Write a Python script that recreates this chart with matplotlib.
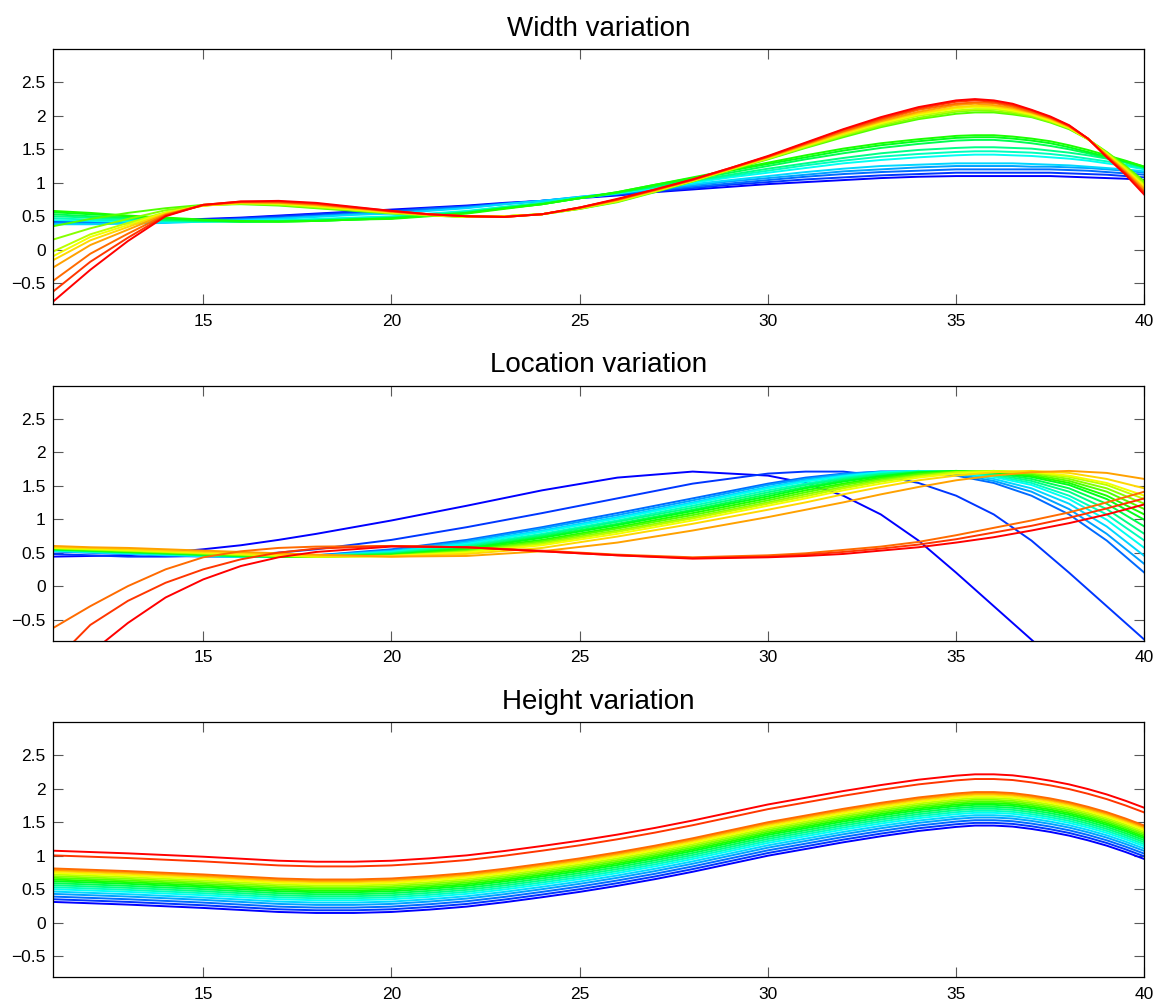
import numpy as np
import matplotlib
matplotlib.use("Agg")
import matplotlib.pyplot as plt
from matplotlib.colors import hsv_to_rgb

plt.rcParams['font.family'] = ['Liberation Sans', 'DejaVu Sans']

# x grids the curves were read on
XG = [11, 12, 13, 14, 15, 16, 17, 18, 20, 22, 24, 26, 28, 30, 31, 32, 33, 34, 35, 36, 37, 38, 39, 40]
XW = [11, 12, 13, 14, 15, 16, 17, 18,
      19, 20, 21, 22, 23, 24, 25, 26, 27, 28, 29, 30, 31, 32, 33, 34,
      35, 35.5, 36, 36.5, 37, 37.5, 38, 38.5, 39, 39.5, 40]

# ---- Width variation (blue -> red), on XW ----
width_curves = [
    [.42, .42, .43, .44, .46, .48, .51, .54, .57, .60, .63, .66, .70, .73, .77, .81, .86, .90, .94, .98, 1.01, 1.04, 1.07, 1.09, 1.10, 1.10, 1.10, 1.10, 1.10, 1.10, 1.09, 1.08, 1.07, 1.06, 1.04],
    [.41, .41, .42, .43, .45, .47, .50, .53, .56, .58, .62, .65, .69, .73, .78, .82, .87, .92, .97, 1.01, 1.05, 1.08, 1.11, 1.13, 1.15, 1.15, 1.15, 1.15, 1.15, 1.15, 1.14, 1.13, 1.12, 1.10, 1.08],
    [.40, .40, .41, .42, .44, .46, .48, .51, .54, .57, .61, .64, .69, .73, .78, .83, .89, .94, .99, 1.04, 1.09, 1.13, 1.16, 1.18, 1.20, 1.20, 1.20, 1.20, 1.20, 1.20, 1.19, 1.18, 1.16, 1.14, 1.12],
    [.39, .39, .40, .41, .43, .45, .47, .50, .53, .55, .59, .63, .68, .73, .79, .84, .90, .96, 1.02, 1.07, 1.12, 1.17, 1.20, 1.23, 1.25, 1.25, 1.25, 1.25, 1.24, 1.24, 1.23, 1.22, 1.20, 1.18, 1.15],
    [.38, .38, .39, .40, .42, .44, .46, .49, .52, .54, .58, .62, .68, .73, .79, .85, .92, .98, 1.04, 1.10, 1.16, 1.21, 1.25, 1.27, 1.29, 1.29, 1.29, 1.29, 1.28, 1.27, 1.26, 1.24, 1.22, 1.20, 1.17],
    [.44, .43, .42, .42, .42, .43, .44, .46, .48, .50, .54, .58, .64, .70, .77, .84, .92, 1.00, 1.08, 1.15, 1.22, 1.29, 1.34, 1.38, 1.41, 1.42, 1.42, 1.41, 1.40, 1.38, 1.36, 1.33, 1.29, 1.25, 1.20],
    [.47, .45, .44, .43, .42, .42, .43, .45, .47, .49, .53, .57, .64, .70, .78, .85, .94, 1.02, 1.10, 1.18, 1.26, 1.33, 1.39, 1.43, 1.46, 1.47, 1.47, 1.46, 1.45, 1.43, 1.40, 1.36, 1.32, 1.27, 1.21],
    [.50, .48, .46, .44, .43, .42, .43, .44, .46, .48, .52, .56, .63, .69, .77, .85, .94, 1.03, 1.12, 1.21, 1.29, 1.37, 1.44, 1.49, 1.52, 1.53, 1.53, 1.52, 1.51, 1.48, 1.45, 1.41, 1.36, 1.30, 1.22],
    [.53, .50, .48, .45, .43, .42, .42, .43, .45, .47, .51, .55, .62, .68, .77, .85, .95, 1.05, 1.15, 1.25, 1.35, 1.44, 1.52, 1.58, 1.63, 1.64, 1.64, 1.62, 1.59, 1.55, 1.50, 1.44, 1.37, 1.31, 1.23],
    [.56, .53, .50, .47, .44, .42, .42, .43, .45, .47, .51, .55, .62, .68, .77, .86, .97, 1.07, 1.18, 1.28, 1.38, 1.48, 1.56, 1.62, 1.67, 1.68, 1.68, 1.66, 1.63, 1.59, 1.53, 1.46, 1.39, 1.32, 1.24],
    [.58, .55, .51, .48, .45, .43, .42, .43, .45, .46, .50, .54, .61, .68, .77, .86, .97, 1.08, 1.19, 1.30, 1.41, 1.51, 1.59, 1.65, 1.70, 1.71, 1.71, 1.69, 1.66, 1.62, 1.56, 1.49, 1.41, 1.33, 1.24],
    [.35, .46, .55, .62, .67, .68, .66, .62, .58, .54, .51, .49, .50, .53, .61, .71, .86, 1.02, 1.19, 1.35, 1.52, 1.68, 1.83, 1.95, 2.03, 2.05, 2.05, 2.02, 1.98, 1.90, 1.80, 1.65, 1.46, 1.25, 1.02],
    [.15, .32, .46, .59, .66, .69, .67, .63, .59, .55, .51, .49, .50, .53, .61, .72, .87, 1.02, 1.19, 1.36, 1.53, 1.70, 1.85, 1.97, 2.06, 2.08, 2.07, 2.04, 1.99, 1.91, 1.81, 1.65, 1.45, 1.23, 1.00],
    [-.03, .23, .40, .56, .66, .69, .68, .64, .60, .55, .52, .49, .50, .53, .62, .72, .87, 1.03, 1.20, 1.36, 1.54, 1.71, 1.87, 2.00, 2.08, 2.10, 2.10, 2.06, 2.01, 1.92, 1.82, 1.65, 1.44, 1.22, .97],
    [-.10, .19, .37, .55, .66, .70, .69, .65, .60, .56, .52, .49, .50, .53, .62, .73, .88, 1.03, 1.20, 1.37, 1.55, 1.73, 1.89, 2.02, 2.11, 2.13, 2.12, 2.08, 2.02, 1.93, 1.82, 1.65, 1.43, 1.20, .95],
    [-.16, .14, .34, .54, .66, .70, .70, .66, .61, .56, .52, .50, .50, .53, .62, .74, .88, 1.04, 1.21, 1.38, 1.56, 1.74, 1.91, 2.04, 2.13, 2.15, 2.14, 2.10, 2.04, 1.95, 1.83, 1.66, 1.42, 1.19, .92],
    [-.27, .07, .30, .53, .66, .71, .70, .67, .62, .57, .52, .50, .49, .53, .62, .74, .89, 1.04, 1.21, 1.38, 1.57, 1.76, 1.92, 2.06, 2.16, 2.18, 2.16, 2.12, 2.05, 1.96, 1.84, 1.66, 1.41, 1.17, .90],
    [-.47, -.06, .24, .52, .67, .71, .71, .68, .63, .57, .53, .50, .49, .53, .63, .75, .89, 1.04, 1.21, 1.39, 1.58, 1.77, 1.94, 2.09, 2.18, 2.20, 2.19, 2.14, 2.06, 1.97, 1.85, 1.66, 1.40, 1.15, .87],
    [-.63, -.18, .18, .51, .67, .72, .72, .69, .63, .58, .53, .50, .49, .53, .63, .75, .90, 1.05, 1.22, 1.39, 1.59, 1.79, 1.96, 2.11, 2.21, 2.23, 2.21, 2.16, 2.08, 1.98, 1.85, 1.66, 1.39, 1.14, .85],
    [-.78, -.30, .13, .50, .67, .72, .73, .70, .64, .58, .53, .50, .49, .53, .63, .76, .90, 1.05, 1.22, 1.40, 1.60, 1.80, 1.98, 2.13, 2.23, 2.25, 2.23, 2.18, 2.09, 1.99, 1.86, 1.66, 1.38, 1.12, .82],
]

# ---- Location variation (blue -> red), on XG ----
location_curves = [
    [.44, .45, .46, .50, .55, .61, .69, .78, .98, 1.20, 1.43, 1.62, 1.71, 1.65, 1.54, 1.35, 1.07, .68, .20, -.30, -.80, -1.30, -1.80, -2.30],
    [.48, .46, .44, .44, .45, .46, .50, .55, .69, .88, 1.09, 1.31, 1.53, 1.68, 1.71, 1.71, 1.65, 1.54, 1.35, 1.07, .68, .20, -.30, -.80],
    [.52, .50, .48, .46, .44, .44, .45, .46, .55, .69, .88, 1.09, 1.31, 1.53, 1.62, 1.68, 1.71, 1.71, 1.65, 1.54, 1.35, 1.07, .68, .20],
    [.52, .50, .48, .46, .45, .44, .44, .46, .53, .67, .86, 1.06, 1.28, 1.51, 1.60, 1.67, 1.71, 1.71, 1.67, 1.57, 1.41, 1.15, .78, .33],
    [.53, .51, .49, .47, .45, .44, .44, .45, .52, .65, .83, 1.03, 1.25, 1.48, 1.58, 1.65, 1.70, 1.72, 1.69, 1.60, 1.46, 1.23, .89, .45],
    [.53, .51, .49, .47, .45, .44, .44, .45, .51, .63, .81, 1.01, 1.23, 1.46, 1.56, 1.64, 1.70, 1.72, 1.70, 1.63, 1.51, 1.30, .99, .57],
    [.54, .52, .50, .48, .46, .44, .44, .45, .50, .61, .78, .98, 1.20, 1.43, 1.53, 1.62, 1.68, 1.71, 1.71, 1.65, 1.54, 1.35, 1.07, .68],
    [.54, .52, .50, .48, .46, .45, .44, .44, .49, .59, .76, .96, 1.17, 1.40, 1.51, 1.60, 1.67, 1.71, 1.71, 1.67, 1.57, 1.41, 1.15, .78],
    [.55, .53, .51, .49, .47, .45, .44, .44, .48, .57, .74, .93, 1.14, 1.37, 1.48, 1.58, 1.65, 1.70, 1.72, 1.69, 1.60, 1.46, 1.23, .89],
    [.55, .53, .51, .49, .47, .45, .44, .44, .47, .56, .72, .91, 1.12, 1.34, 1.46, 1.56, 1.64, 1.70, 1.72, 1.70, 1.63, 1.51, 1.30, .99],
    [.56, .54, .52, .50, .48, .46, .44, .44, .46, .55, .69, .88, 1.09, 1.31, 1.43, 1.53, 1.62, 1.68, 1.71, 1.71, 1.65, 1.54, 1.35, 1.07],
    [.56, .54, .52, .50, .48, .46, .45, .44, .46, .53, .67, .86, 1.06, 1.28, 1.40, 1.51, 1.60, 1.67, 1.71, 1.71, 1.67, 1.57, 1.41, 1.15],
    [.57, .55, .53, .51, .49, .47, .45, .44, .45, .52, .65, .83, 1.03, 1.25, 1.37, 1.48, 1.58, 1.65, 1.70, 1.72, 1.69, 1.60, 1.46, 1.23],
    [.57, .55, .53, .51, .49, .47, .45, .44, .45, .51, .63, .81, 1.01, 1.23, 1.34, 1.46, 1.56, 1.64, 1.70, 1.72, 1.70, 1.63, 1.51, 1.30],
    [.57, .56, .54, .52, .50, .48, .46, .44, .45, .50, .61, .78, .98, 1.20, 1.31, 1.43, 1.53, 1.62, 1.68, 1.71, 1.71, 1.65, 1.54, 1.35],
    [.58, .57, .55, .53, .51, .49, .47, .45, .44, .48, .57, .74, .93, 1.14, 1.25, 1.37, 1.48, 1.58, 1.65, 1.70, 1.72, 1.69, 1.60, 1.46],
    [.60, .58, .57, .55, .53, .51, .49, .47, .44, .45, .52, .65, .83, 1.03, 1.14, 1.25, 1.37, 1.48, 1.58, 1.65, 1.70, 1.72, 1.69, 1.60],
    [-.63, -.30, .00, .25, .43, .52, .57, .59, .60, .58, .53, .47, .43, .46, .49, .54, .59, .66, .76, .87, .98, 1.10, 1.25, 1.41],
    [-1.15, -.58, -.22, .05, .25, .40, .50, .56, .60, .58, .52, .46, .42, .44, .47, .51, .56, .62, .70, .80, .90, 1.02, 1.16, 1.31],
    [-1.70, -1.00, -.55, -.17, .10, .30, .43, .51, .59, .58, .52, .46, .41, .43, .45, .48, .53, .58, .65, .73, .83, .94, 1.07, 1.22],
]

# ---- Height variation: one shape, shifted up per curve (blue -> red), on XW ----
height_base = [.31, .29, .27, .245, .22, .19, .16, .145,
               .145, .16, .195, .24, .305, .38, .46, .55, .65, .76, .88, 1.00, 1.10, 1.20, 1.29, 1.37,
               1.43, 1.45, 1.45, 1.435, 1.40, 1.355, 1.30, 1.23, 1.15, 1.055, .95]
height_offsets = [0, .04, .08, .12, .155, .19, .22, .25, .28, .31, .335, .36, .385, .41, .435, .46, .48, .50, .695, .765]

panels = [
    ("Width variation", XW, width_curves),
    ("Location variation", XG, location_curves),
    ("Height variation", XW, [[b + o for b in height_base] for o in height_offsets]),
]

fig = plt.figure(figsize=(11.57, 10.08), dpi=100)
bottoms = [0.6981, 0.3644, 0.0305]

for (title, xs, curves), b in zip(panels, bottoms):
    ax = fig.add_axes([0.0455, b, 0.9436, 0.2528])
    hues = np.linspace(2 / 3, 0, len(curves))
    for h, ys in zip(hues, curves):
        ax.plot(xs, ys, color=hsv_to_rgb((h, 1, 1)), lw=1.4)
    ax.set_xlim(11, 40)
    ax.set_ylim(-0.815, 2.99)
    ax.set_xticks([15, 20, 25, 30, 35, 40])
    ax.set_yticks([-0.5, 0, 0.5, 1, 1.5, 2, 2.5])
    ax.set_yticklabels(['\u22120.5', '0', '0.5', '1', '1.5', '2', '2.5'])
    ax.tick_params(direction='in', top=True, right=True, length=7, width=0.8,
                   color='0.35', labelsize=12.5)
    ax.tick_params(axis='x', pad=7)
    ax.tick_params(axis='y', pad=5)
    for s in ax.spines.values():
        s.set_linewidth(0.9)
    ax.set_title(title, fontsize=20, pad=10)

fig.savefig("out.png", dpi=100)
